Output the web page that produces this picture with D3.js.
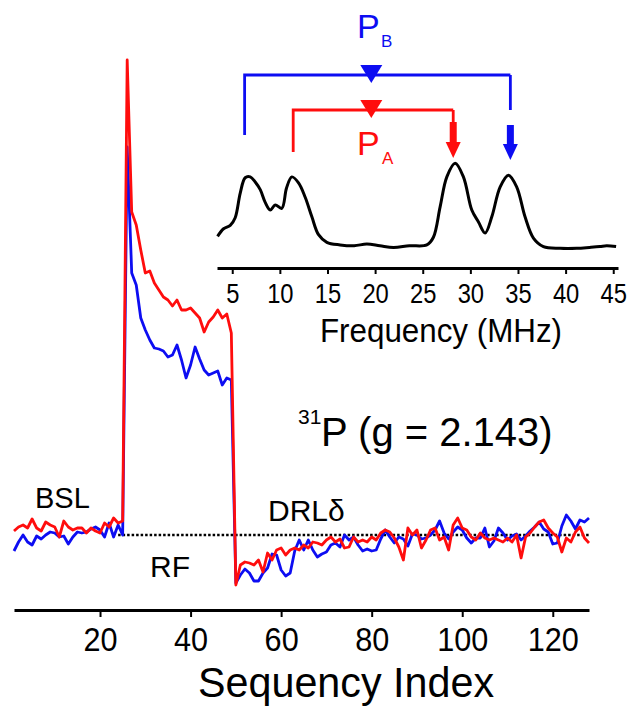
<!DOCTYPE html>
<html>
<head>
<meta charset="utf-8">
<script src="https://cdn.jsdelivr.net/npm/d3@7"></script>
<style>
  body { margin: 0; background: #fff; }
  text { font-family: "Liberation Sans", Arial, sans-serif; }
</style>
</head>
<body>
<script>
var width = 639,
    height = 706;

// sequency index runs 1..128 ; baseline (BSL) 1-25, RF 26-49, DRL 50-128
var redSignal = [
  0.04, 0.08, 0.10, 0.07, 0.16, 0.07, 0.04, 0.13, 0.10, 0.08, -0.02, 0.14, 0.08, 0.05, 0.07, 0.07, 0.02, 0.07, 0.04, 0.02, 0.12, 0.08, 0.17, 0.12, 0.14,
  4.75, 3.23, 3.10, 2.85, 2.62, 2.64, 2.52, 2.45, 2.38, 2.35, 2.29, 2.35, 2.25, 2.25, 2.27, 2.22, 2.17, 2.03, 2.13, 2.18, 2.25, 2.17, 2.21, 2.02,
  -0.50, -0.30, -0.27, -0.28, -0.30, -0.25, -0.37, -0.18, -0.25, -0.15,
  -0.13, -0.20, -0.15, -0.13, -0.15, -0.10, -0.13, -0.07, -0.08, -0.10,
  -0.05, -0.02, -0.07, -0.04, -0.13, -0.12, -0.02, -0.07, -0.05, -0.07,
  -0.02, -0.05, 0.02, 0.05, 0.03, -0.03, -0.12, -0.25, 0.07, 0.00,
  0.05, -0.13, -0.05, 0.05, 0.07, -0.05, -0.02, -0.15, 0.10, 0.17,
  0.07, 0.05, -0.02, -0.05, 0.02, -0.03, -0.05, -0.03, -0.05, -0.07,
  -0.03, -0.07, 0.00, -0.23, -0.02, 0.02, 0.08, 0.13, 0.15, 0.07,
  0.02, -0.02, -0.17, -0.03, -0.07, 0.03, 0.08, -0.03, -0.08
];

var blueSignal = [
  -0.16, -0.07, 0.00, -0.07, -0.10, -0.01, -0.04, 0.00, 0.03, 0.02, -0.02, -0.01, -0.09, -0.02, 0.03, 0.02, 0.03, 0.06, 0.08, 0.05, -0.02, 0.12, -0.02, 0.10, 0.00,
  3.88, 2.62, 2.50, 2.17, 2.05, 1.95, 1.87, 1.86, 1.84, 1.78, 1.80, 1.90, 1.75, 1.57, 1.70, 1.88, 1.76, 1.65, 1.60, 1.62, 1.64, 1.50, 1.57, 1.55,
  -0.48, -0.40, -0.34, -0.38, -0.46, -0.46, -0.38, -0.33, -0.19, -0.20,
  -0.35, -0.41, -0.38, -0.16, -0.05, -0.15, -0.05, -0.15, -0.22, -0.19,
  -0.17, -0.10, -0.08, -0.12, 0.00, -0.05, -0.02, -0.10, -0.16, -0.14,
  -0.16, -0.15, -0.04, 0.05, -0.02, -0.08, -0.02, -0.04, -0.11, 0.01,
  0.00, -0.04, -0.03, 0.00, 0.05, 0.14, 0.02, -0.04, 0.03, 0.08,
  0.05, -0.03, -0.08, -0.03, -0.03, 0.07, -0.12, -0.06, 0.07, 0.02,
  -0.05, -0.01, 0.01, -0.05, -0.01, 0.04, 0.08, 0.13, 0.06, 0.03,
  -0.09, -0.08, 0.09, 0.20, 0.14, 0.06, 0.15, 0.13, 0.17
];

var seqTicks = [20, 40, 60, 80, 100, 120];
var baselineRange = [24, 128];

// inset ENDOR spectrum
var freqMHz = [3.46, 4.09, 4.79, 5.31, 5.84, 6.36, 6.89, 7.41, 7.94, 8.46, 8.99, 9.51, 10.2, 10.7, 11.26, 11.96,
  12.66, 13.36, 14.06, 14.93, 16.33, 17.8, 19.13, 20.5, 21.93, 23.6, 25.43, 26.12, 26.83, 27.53, 28.4,
  29.27, 30.15, 30.85, 31.55, 32.25, 33.12, 34.0, 34.87, 35.74, 36.62, 37.67, 39.42, 41.17, 42.5, 43.6, 44.3, 45.3];
var endorSignal = [0.16, 0.25, 0.29, 0.38, 0.67, 0.85, 0.86, 0.80, 0.71, 0.56, 0.47, 0.53, 0.49, 0.73, 0.86, 0.79,
  0.62, 0.39, 0.18, 0.09, 0.06, 0.05, 0.07, 0.05, 0.03, 0.05, 0.06, 0.15, 0.51, 0.86, 1.02,
  0.86, 0.47, 0.33, 0.20, 0.39, 0.74, 0.88, 0.74, 0.39, 0.14, 0.04, 0.02, 0.02, 0.03, 0.04, 0.05, 0.04];
var freqTicks = [5, 10, 15, 20, 25, 30, 35, 40, 45];

// hyperfine pairs, MHz
var pairB = [6.3, 34.2];
var pairA = [11.4, 28.2];
var larmor = 19.6;

var red = "#ff0d0d", blue = "#0d0df2";

var svg = d3.select("body").append("svg")
    .attr("width", width)
    .attr("height", height);

// squeeze text horizontally a bit like the original figure
function squeeze(sel, k) {
  sel.each(function() {
    var w = this.getComputedTextLength();
    d3.select(this).attr("textLength", w * k).attr("lengthAdjust", "spacingAndGlyphs");
  });
}

// ---- main chart
var x = d3.scaleLinear().domain([1, 128]).range([14, 589]);
var y = d3.scaleLinear().domain([-0.75, 4.75]).range([610, 60]);

var line = d3.line()
    .x(function(d, i) { return x(i + 1); })
    .y(function(d) { return y(d); });

svg.append("line")
    .attr("x1", x(baselineRange[0])).attr("x2", x(baselineRange[1]))
    .attr("y1", y(0)).attr("y2", y(0))
    .attr("stroke", "#000").attr("stroke-width", 2.5).attr("stroke-dasharray", "2.5,2");

svg.append("path").datum(blueSignal)
    .attr("d", line).attr("fill", "none")
    .attr("stroke", blue).attr("stroke-width", 2.8).attr("stroke-linejoin", "round");

svg.append("path").datum(redSignal)
    .attr("d", line).attr("fill", "none")
    .attr("stroke", red).attr("stroke-width", 2.8).attr("stroke-linejoin", "round");

var xAxis = svg.append("g")
    .attr("transform", "translate(0,610)")
    .call(d3.axisBottom(x).tickValues(seqTicks).tickSize(7).tickSizeOuter(0).tickPadding(10));
xAxis.select(".domain").attr("stroke-width", 2.8);
xAxis.selectAll(".tick line").attr("stroke-width", 2);
xAxis.selectAll(".tick text").attr("font-size", 34).attr("fill", "#000")
    .style("font-family", "'Liberation Sans', Arial, sans-serif")
    .call(squeeze, 0.9);

svg.append("text").attr("x", 346).attr("y", 697)
    .attr("text-anchor", "middle").attr("font-size", 43)
    .text("Sequency Index").call(squeeze, 0.96);

svg.append("text").attr("x", 35).attr("y", 508).attr("font-size", 29).text("BSL");
svg.append("text").attr("x", 150).attr("y", 577).attr("font-size", 30).text("RF");
svg.append("text").attr("x", 268).attr("y", 521).attr("font-size", 30).text("DRLδ");

svg.append("text").attr("x", 298).attr("y", 424).attr("font-size", 21).text("31");
svg.append("text").attr("x", 321).attr("y", 446).attr("font-size", 40).text("P (g = 2.143)");

// ---- inset spectrum
var ix = d3.scaleLinear().domain([3.4, 45.5]).range([217, 618]);
var iy = d3.scaleLinear().domain([0, 1]).range([250, 165]);

var iline = d3.line()
    .x(function(d, i) { return ix(freqMHz[i]); })
    .y(function(d) { return iy(d); })
    .curve(d3.curveCatmullRom.alpha(0.5));

svg.append("path").datum(endorSignal)
    .attr("d", iline).attr("fill", "none")
    .attr("stroke", "#000").attr("stroke-width", 3).attr("stroke-linejoin", "round");

var iAxis = svg.append("g")
    .attr("transform", "translate(0,268)")
    .call(d3.axisBottom(ix).tickValues(freqTicks).tickSize(6).tickSizeOuter(0).tickPadding(10));
iAxis.select(".domain").attr("stroke-width", 2.8);
iAxis.selectAll(".tick line").attr("stroke-width", 2);
iAxis.selectAll(".tick text").attr("font-size", 27).attr("fill", "#000")
    .style("font-family", "'Liberation Sans', Arial, sans-serif")
    .call(squeeze, 0.88);

svg.append("text").attr("x", 441).attr("y", 342)
    .attr("text-anchor", "middle").attr("font-size", 33)
    .text("Frequency (MHz)").call(squeeze, 0.95);

// brackets for the two 31P pairs
function tri(cx, top, w, h) {
  return "M" + (cx - w / 2) + "," + top + "L" + (cx + w / 2) + "," + top + "L" + cx + "," + (top + h) + "Z";
}

function bracket(pair, yTop, yLeft, color) {
  svg.append("path")
      .attr("d", "M" + ix(pair[0]) + "," + yLeft + "V" + yTop + "H" + ix(pair[1]))
      .attr("fill", "none").attr("stroke", color).attr("stroke-width", 2.8);
  svg.append("path").attr("d", tri(ix(larmor), yTop - 10, 22, 18)).attr("fill", color);
}

function arrow(f, y0, y1, color) {
  var cx = ix(f);
  svg.append("rect").attr("x", cx - 3.5).attr("y", y0).attr("width", 7).attr("height", y1 - y0 - 12)
      .attr("fill", color);
  svg.append("path").attr("d", tri(cx, y1 - 14, 15, 16)).attr("fill", color);
}

bracket(pairB, 75, 135, blue);
svg.append("line").attr("x1", ix(pairB[1])).attr("x2", ix(pairB[1]))
    .attr("y1", 75).attr("y2", 110).attr("stroke", blue).attr("stroke-width", 2.8);
arrow(pairB[1], 125, 158, blue);

bracket(pairA, 110, 152, red);
svg.append("line").attr("x1", ix(pairA[1])).attr("x2", ix(pairA[1]))
    .attr("y1", 110).attr("y2", 125).attr("stroke", red).attr("stroke-width", 2.8);
arrow(pairA[1], 122, 156, red);

svg.append("text").attr("x", 357).attr("y", 38).attr("font-size", 34).attr("fill", blue).text("P");
svg.append("text").attr("x", 381).attr("y", 47).attr("font-size", 17).attr("fill", blue).text("B");
svg.append("text").attr("x", 357).attr("y", 155).attr("font-size", 34).attr("fill", red).text("P");
svg.append("text").attr("x", 382).attr("y", 164).attr("font-size", 17).attr("fill", red).text("A");
</script>
</body>
</html>
